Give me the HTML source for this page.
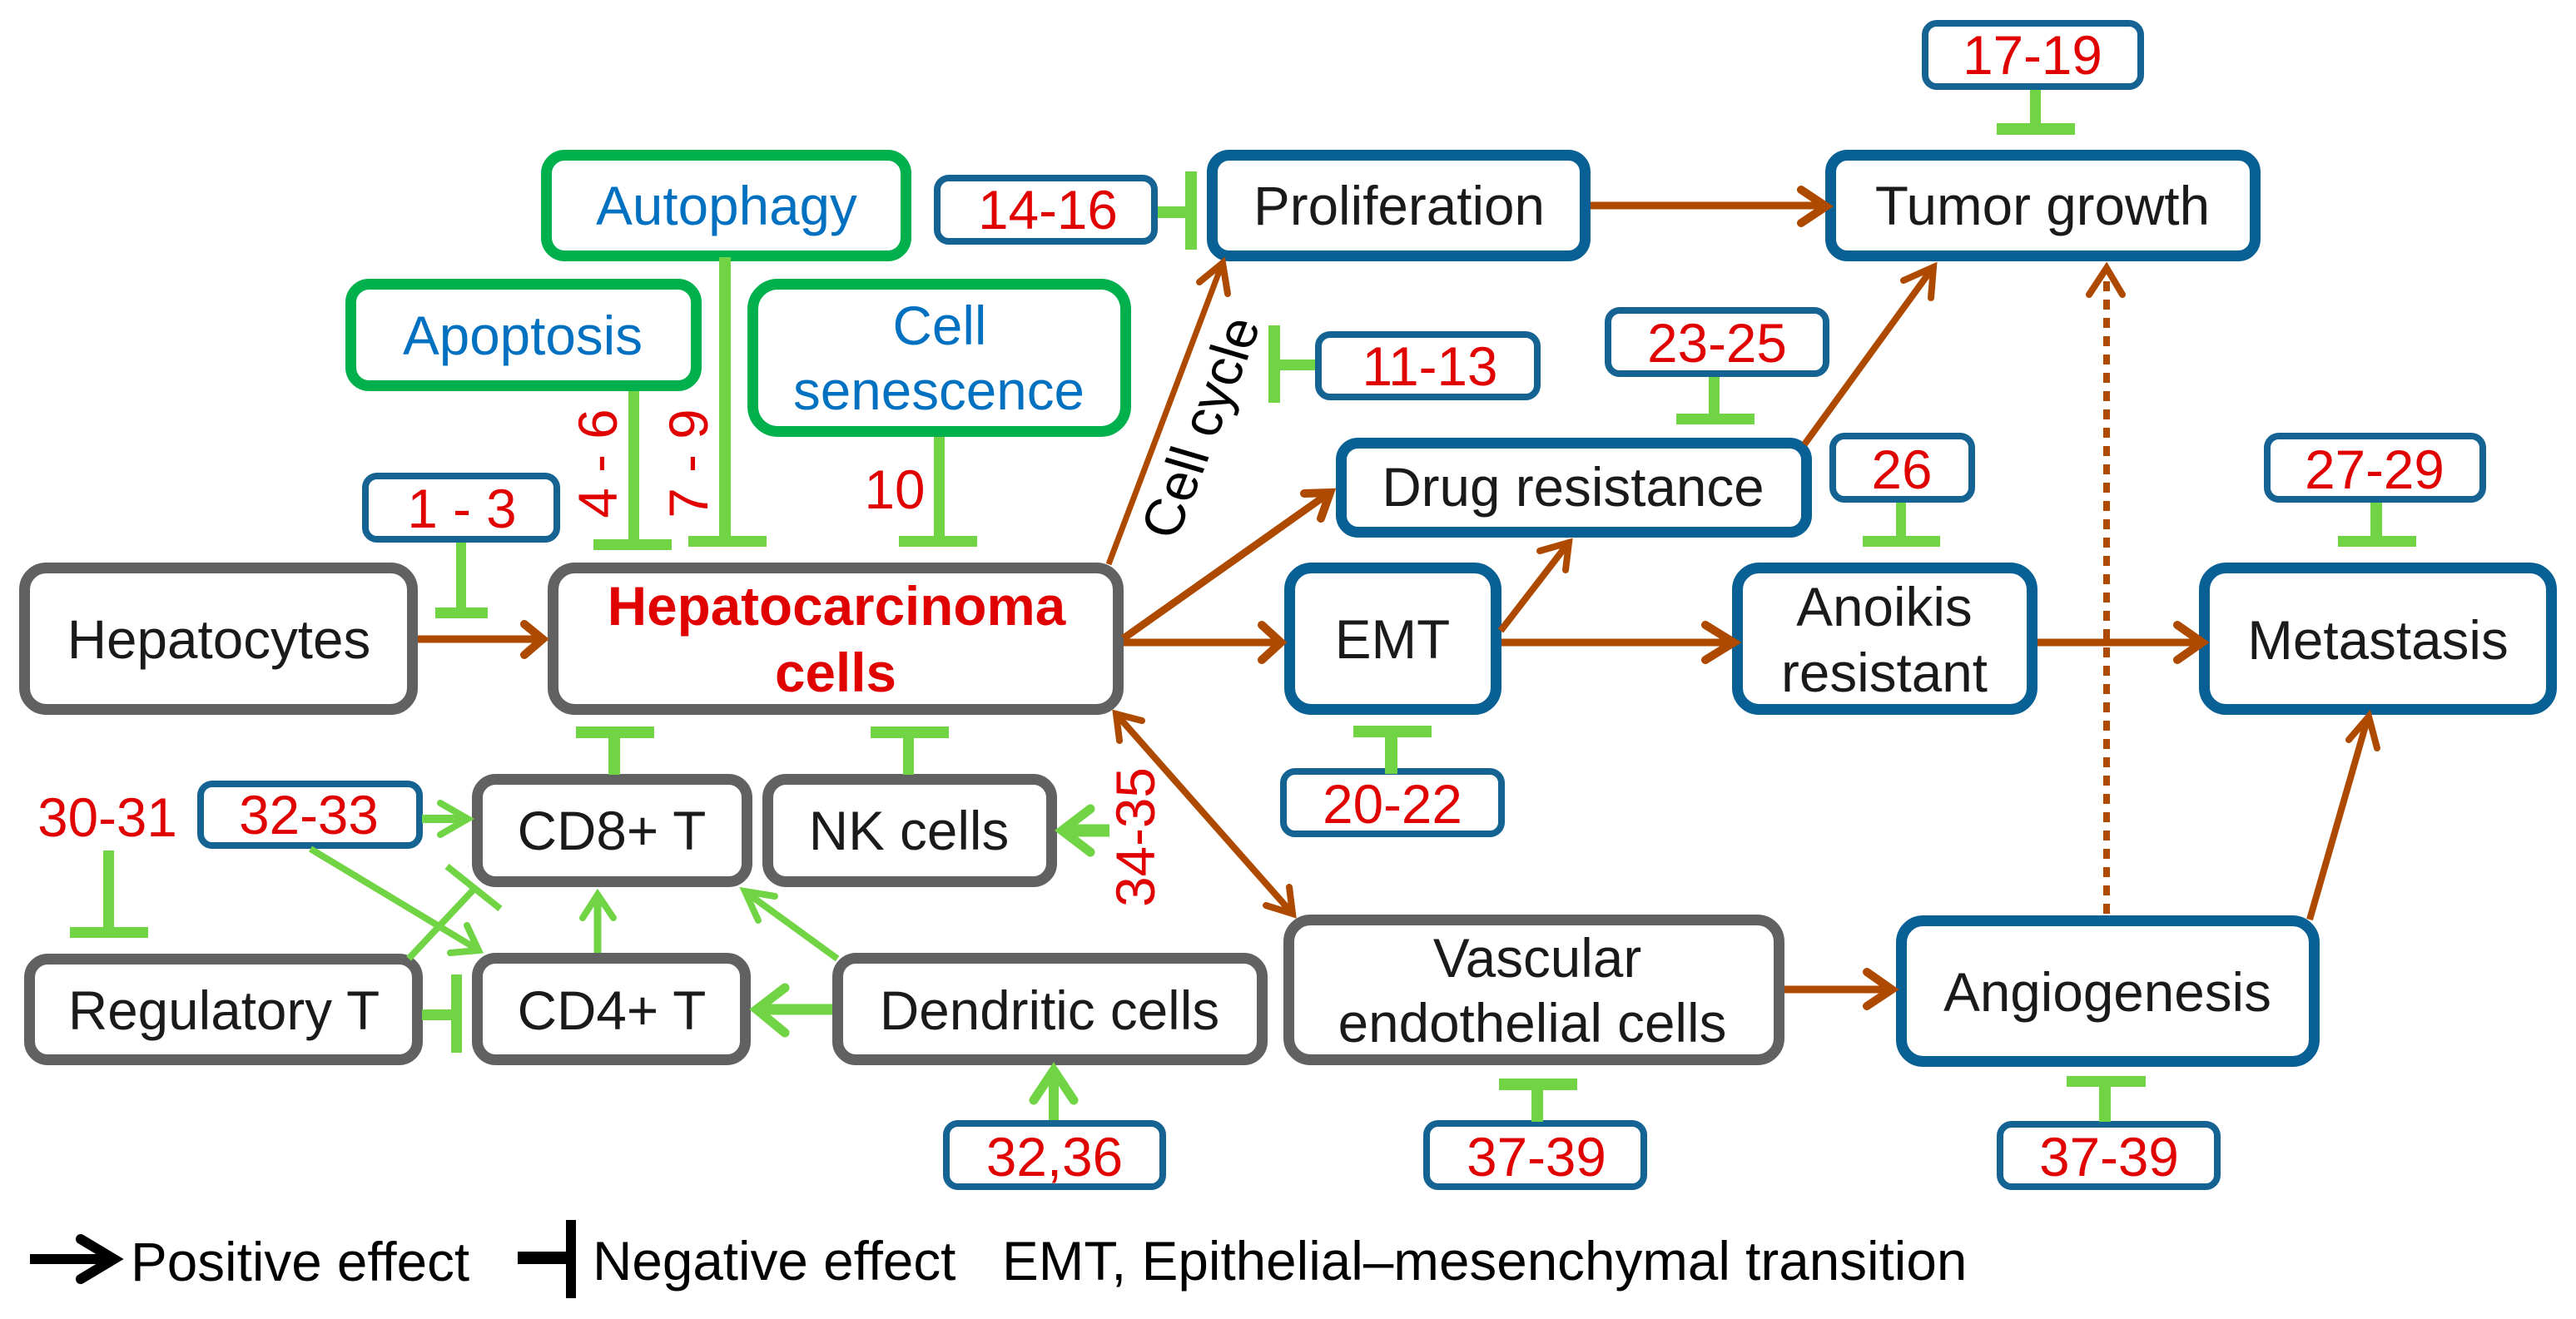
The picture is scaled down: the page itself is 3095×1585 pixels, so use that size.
<!DOCTYPE html>
<html><head><meta charset="utf-8"><style>
html,body{margin:0;padding:0;background:#fff;width:3095px;height:1585px;overflow:hidden}
svg{display:block}
text{font-family:"Liberation Sans",Arial,sans-serif;font-size:65.6px;fill:#1a1a1a;text-anchor:middle}
.r{fill:#e00000}.b{fill:#0070c0}
.gy{fill:#fff;stroke:#616161;stroke-width:13}
.bl{fill:#fff;stroke:#086094;stroke-width:13}
.gn{fill:#fff;stroke:#00b04c;stroke-width:13}
.sm{fill:#fff;stroke:#156393;stroke-width:8}
.g{fill:#70d444}
.br,.br2,.lg,.lg2,.blk{fill:none;stroke-linejoin:miter;stroke-miterlimit:12;stroke-linecap:round}
.br{stroke:#ae4a00;stroke-width:10}.br2{stroke:#ae4a00;stroke-width:8}
.lg{stroke:#70d444;stroke-width:8}.lg2{stroke:#70d444;stroke-width:11}
.blk{stroke:#000;stroke-width:12}
.bt{stroke-linecap:butt}
</style></head><body>
<svg width="3095" height="1585" viewBox="0 0 3095 1585" xmlns="http://www.w3.org/2000/svg">
<!-- large gray -->
<rect class="gy" x="29.5" y="682.5" width="466" height="170" rx="26"/>
<rect class="gy" x="664.5" y="682.5" width="679" height="170" rx="26"/>
<rect class="gy" x="573.5" y="936.5" width="324" height="123" rx="22"/>
<rect class="gy" x="922.5" y="936.5" width="341" height="123" rx="22"/>
<rect class="gy" x="35.5" y="1152.5" width="466" height="121" rx="22"/>
<rect class="gy" x="573.5" y="1151.5" width="322" height="122" rx="22"/>
<rect class="gy" x="1006.5" y="1151.5" width="510" height="122" rx="22"/>
<rect class="gy" x="1548.5" y="1105.5" width="589" height="168" rx="26"/>
<!-- green -->
<rect class="gn" x="656.5" y="186.5" width="432" height="121" rx="22"/>
<rect class="gn" x="421.5" y="341.5" width="415" height="122" rx="22"/>
<rect class="gn" x="904.5" y="341.5" width="448" height="177" rx="30"/>
<!-- blue -->
<rect class="bl" x="1456.5" y="186.5" width="448" height="121" rx="20"/>
<rect class="bl" x="2199.5" y="186.5" width="510" height="121" rx="20"/>
<rect class="bl" x="1611.5" y="532.5" width="559" height="107" rx="20"/>
<rect class="bl" x="1549.5" y="682.5" width="248" height="170" rx="26"/>
<rect class="bl" x="2087.5" y="682.5" width="354" height="170" rx="26"/>
<rect class="bl" x="2648.5" y="682.5" width="417" height="170" rx="26"/>
<rect class="bl" x="2284.5" y="1106.5" width="496" height="169" rx="26"/>
<!-- small boxes -->
<rect class="sm" x="439" y="572" width="230" height="76" rx="14"/>
<rect class="sm" x="1126" y="214" width="261" height="76" rx="14"/>
<rect class="sm" x="2313" y="28" width="259" height="76" rx="14"/>
<rect class="sm" x="1584" y="402" width="263" height="75" rx="14"/>
<rect class="sm" x="1932" y="373" width="262" height="76" rx="14"/>
<rect class="sm" x="2202" y="524" width="167" height="76" rx="14"/>
<rect class="sm" x="2724" y="524" width="259" height="76" rx="14"/>
<rect class="sm" x="1542" y="927" width="262" height="75" rx="14"/>
<rect class="sm" x="241" y="942" width="263" height="74" rx="14"/>
<rect class="sm" x="1137" y="1350" width="260" height="76" rx="14"/>
<rect class="sm" x="1714" y="1350" width="261" height="76" rx="14"/>
<rect class="sm" x="2403" y="1351" width="261" height="75" rx="14"/>

<!-- green T bars -->
<g class="g">
<rect x="755" y="470" width="13" height="180"/><rect x="713" y="648" width="94" height="13"/>
<rect x="864" y="309" width="14" height="337"/><rect x="827" y="644" width="94" height="13"/>
<rect x="1122" y="525" width="13" height="120"/><rect x="1080" y="644" width="94" height="13"/>
<rect x="548" y="652" width="12" height="80"/><rect x="523" y="730" width="63" height="13"/>
<rect x="1391" y="248" width="34" height="14"/><rect x="1424" y="206" width="14" height="94"/>
<rect x="2439" y="108" width="13" height="42"/><rect x="2399" y="148" width="94" height="14"/>
<rect x="1537" y="432" width="43" height="13"/><rect x="1524" y="391" width="14" height="93"/>
<rect x="2053" y="453" width="13" height="46"/><rect x="2014" y="497" width="94" height="13"/>
<rect x="2278" y="604" width="12" height="42"/><rect x="2238" y="644" width="93" height="13"/>
<rect x="2848" y="604" width="14" height="42"/><rect x="2809" y="644" width="94" height="13"/>
<rect x="1664" y="884" width="15" height="46"/><rect x="1626" y="872" width="94" height="14"/>
<rect x="1840" y="1308" width="14" height="40"/><rect x="1801" y="1296" width="94" height="14"/>
<rect x="2522" y="1304" width="14" height="44"/><rect x="2483" y="1293" width="95" height="13"/>
<rect x="731" y="885" width="14" height="46"/><rect x="692" y="873" width="94" height="14"/>
<rect x="1085" y="885" width="13" height="46"/><rect x="1046" y="873" width="94" height="14"/>
<rect x="124" y="1022" width="13" height="94"/><rect x="84" y="1114" width="94" height="13"/>
<rect x="507" y="1213" width="37" height="13"/><rect x="542" y="1171" width="13" height="94"/>
</g>
<!-- brown connectors -->
<g class="br">
<path class="bt" style="stroke-width:9" d="M502 768H648"/><path d="M630 750L652 768L630 787"/>
<path class="bt" style="stroke-width:9" d="M1350 772H1538"/><path d="M1516 751L1539 772L1516 793"/>
<path class="bt" style="stroke-width:9" d="M1911 247H2192"/><path d="M2164 228L2194 248L2164 268"/>
<path class="bt" style="stroke-width:9" d="M1804 772H2082"/><path d="M2049 751L2083 772L2049 793"/>
<path class="bt" style="stroke-width:9" d="M2448 772H2644"/><path d="M2616 751L2646 772L2616 793"/>
<path class="bt" style="stroke-width:9" d="M2144 1189H2271"/><path d="M2243 1168L2273 1189L2243 1209"/>
<path class="bt" style="stroke-width:9" d="M1350 767L1596 593"/><path d="M1567 593L1598 592L1587 623"/>
</g>
<g class="br2">
<path class="bt" style="stroke-width:7" d="M1332 678L1468 318"/><path d="M1441 339L1469 316L1475 353"/>
<path class="bt" d="M2168 534L2322 322"/><path d="M2287 337L2323 321L2320 358"/>
<path class="bt" d="M1803 758L1884 653"/><path d="M1850 662L1885 652L1881 685"/>
<path class="bt" d="M2775 1105L2845 862"/><path d="M2822 889L2846 861L2856 899"/>
<path class="bt" d="M1341 858L1553 1098"/><path d="M1372 866L1341 858L1345 890"/><path d="M1549 1066L1553 1098L1521 1088"/>
<path d="M2510 354L2531 322L2550 354"/>
<path class="bt" stroke-dasharray="12 10" d="M2531 1098V326"/>
</g>
<!-- light green arrows -->
<g class="lg">
<path class="bt" d="M373 1020L574 1141"/><path d="M561 1112L575 1142L541 1145"/>
<path class="bt" d="M491 1152L568 1070"/><path class="bt" d="M537 1041L601 1092"/>
<path class="bt" style="stroke-width:9" d="M718 1145V1076"/><path d="M700 1103L718 1075L737 1103"/>
<path class="bt" d="M1006 1152L896 1072"/><path d="M931 1077L895 1071L911 1106"/>
<path class="bt" style="stroke-width:10" d="M507 984H560"/><path d="M529 965L562 984L529 1003"/>
</g>
<g class="lg2">
<path class="bt" style="stroke-width:15" d="M1333 998H1280"/><path d="M1310 972L1276 998L1310 1024"/>
<path class="bt" style="stroke-width:13" d="M1000 1213H912"/><path d="M943 1187L909 1213L943 1241"/>
<path class="bt" style="stroke-width:12" d="M1266 1346V1288"/><path d="M1242 1322L1266 1286L1290 1322"/>
</g>
<!-- legend shapes -->
<path class="blk bt" d="M36 1513H134"/><path class="blk" d="M97 1489L137 1513L97 1537"/>
<rect x="622" y="1504" width="60" height="15"/><rect x="680" y="1466" width="12" height="94"/>

<!-- text -->
<text x="263" y="791">Hepatocytes</text>
<text class="r" font-weight="bold" x="1005" y="751">Hepatocarcinoma</text>
<text class="r" font-weight="bold" x="1004" y="831">cells</text>
<text class="b" x="873" y="270">Autophagy</text>
<text class="b" x="628" y="426">Apoptosis</text>
<text class="b" x="1129" y="414">Cell</text>
<text class="b" x="1128" y="492">senescence</text>
<text class="r" x="555" y="634">1 - 3</text>
<text class="r" x="1259" y="275">14-16</text>
<text class="r" x="1075" y="611">10</text>
<text class="r" x="2442" y="89">17-19</text>
<text class="r" x="1718" y="463">11-13</text>
<text class="r" x="2063" y="435">23-25</text>
<text class="r" x="2285" y="587">26</text>
<text class="r" x="2853" y="587">27-29</text>
<text class="r" x="1673" y="989">20-22</text>
<text class="r" x="1846" y="1413">37-39</text>
<text class="r" x="2534" y="1413">37-39</text>
<text class="r" x="129" y="1005">30-31</text>
<text class="r" x="371" y="1002">32-33</text>
<text class="r" x="1267" y="1413">32,36</text>
<text class="r" transform="translate(741 557) rotate(-90)">4 - 6</text>
<text class="r" transform="translate(850 557) rotate(-90)">7 - 9</text>
<text class="r" transform="translate(1387 1006) rotate(-90)">34-35</text>
<text style="fill:#000" transform="translate(1464 520) rotate(-68.6) skewX(5)">Cell cycle</text>
<text x="1681" y="270">Proliferation</text>
<text x="2454" y="270">Tumor growth</text>
<text x="1890" y="608">Drug resistance</text>
<text x="1673" y="791">EMT</text>
<text x="2264" y="752">Anoikis</text>
<text x="2264" y="831">resistant</text>
<text x="2857" y="792">Metastasis</text>
<text x="1847" y="1174">Vascular</text>
<text x="1841" y="1252">endothelial cells</text>
<text x="2532" y="1215">Angiogenesis</text>
<text x="735" y="1021">CD8+ T</text>
<text x="1092" y="1021">NK cells</text>
<text x="269" y="1237">Regulatory T</text>
<text x="735" y="1237">CD4+ T</text>
<text x="1261" y="1237">Dendritic cells</text>
<text style="text-anchor:start;fill:#000" x="157" y="1539">Positive effect</text>
<text style="text-anchor:start;fill:#000" x="712" y="1538">Negative effect</text>
<text style="text-anchor:start;fill:#000" x="1204" y="1538">EMT, Epithelial–mesenchymal transition</text>
</svg>
</body></html>
